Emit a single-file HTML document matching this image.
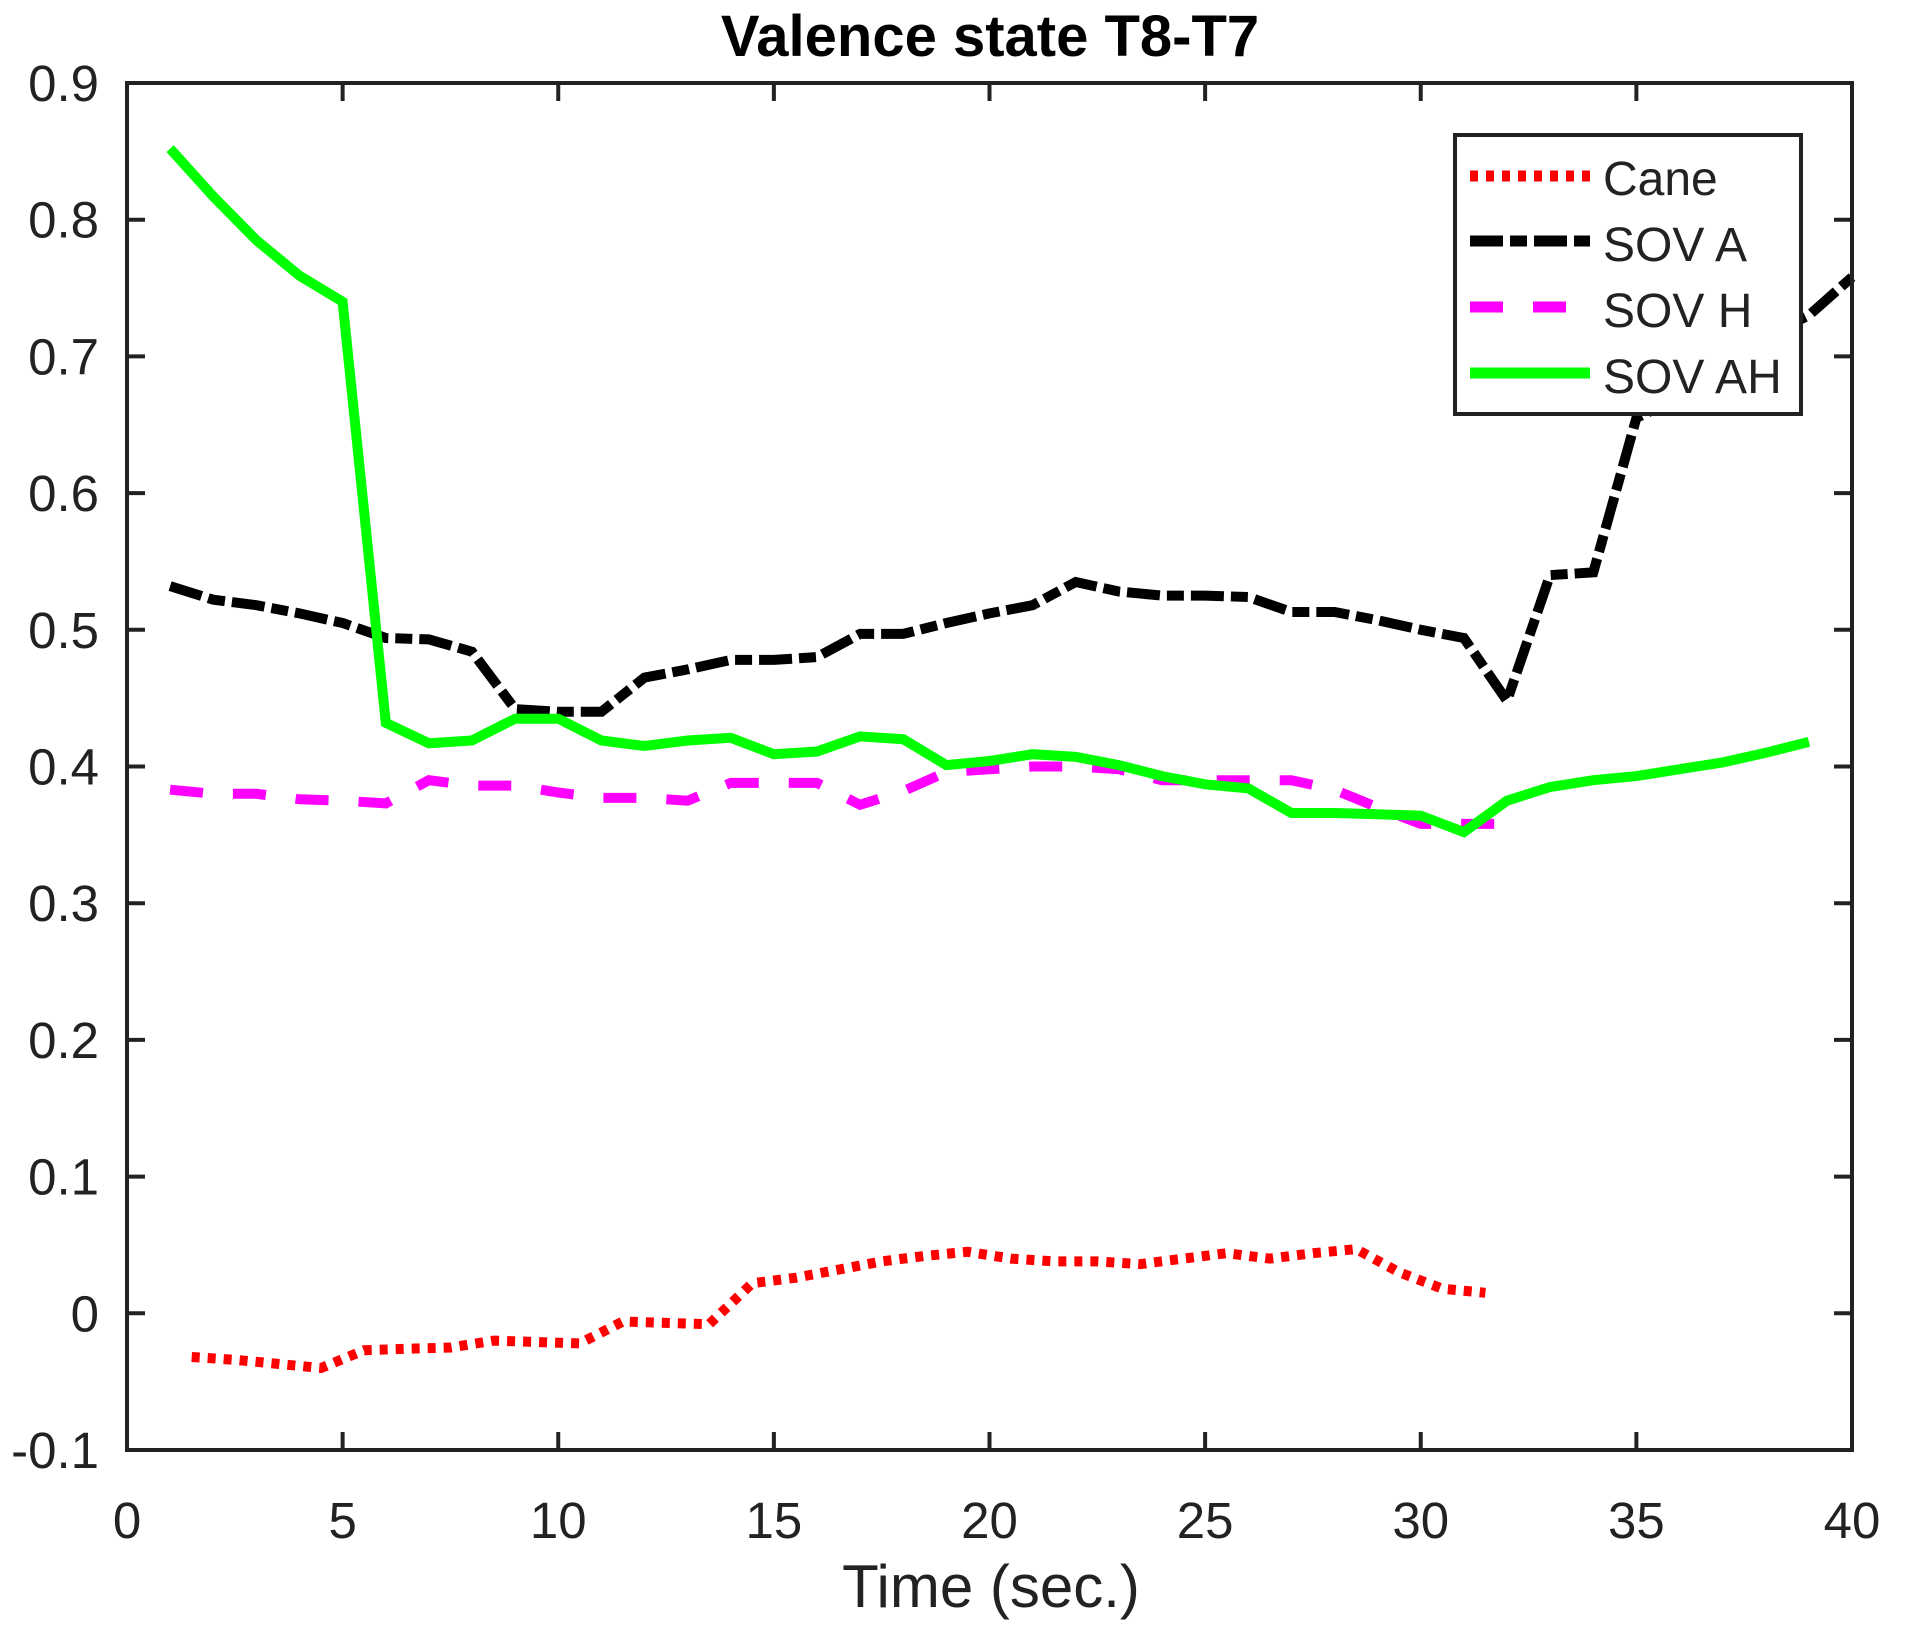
<!DOCTYPE html>
<html><head><meta charset="utf-8"><style>body{margin:0;background:#fff}svg{display:block}text{font-family:"Liberation Sans",sans-serif;fill:#222}</style></head>
<body>
<svg id="chart" width="1905" height="1633" xmlns="http://www.w3.org/2000/svg">
<text x="990" y="56" font-size="58" font-weight="bold" text-anchor="middle" style="fill:#000">Valence state T8-T7</text>
<g id="axes"></g>
<g id="series"></g>
<rect x="127" y="83" width="1725" height="1367" fill="none" stroke="#222" stroke-width="4"/>
<text x="991" y="1607" font-size="60" text-anchor="middle">Time (sec.)</text>
<g>
<rect x="1455" y="135" width="346" height="279" fill="#fff" stroke="#222" stroke-width="4"/>
<line x1="1470" y1="176" x2="1590" y2="176" stroke="#f00" stroke-width="11" stroke-dasharray="8,8"/>
<text x="1603" y="195" font-size="48">Cane</text>
<line x1="1470" y1="241" x2="1590" y2="241" stroke="#000" stroke-width="11" stroke-dasharray="33,7,17,7"/>
<text x="1603" y="261" font-size="48">SOV A</text>
<line x1="1470" y1="307" x2="1590" y2="307" stroke="#f0f" stroke-width="11" stroke-dasharray="33,30"/>
<text x="1603" y="327" font-size="48">SOV H</text>
<line x1="1470" y1="373" x2="1590" y2="373" stroke="#0f0" stroke-width="11"/>
<text x="1603" y="393" font-size="48">SOV AH</text>
</g>
</svg>
<script>
const xTicks=[0,5,10,15,20,25,30,35,40];
const yTicks=[-0.1,0,0.1,0.2,0.3,0.4,0.5,0.6,0.7,0.8,0.9];
const caneX=[1.5,2.5,3.5,4.5,5.5,6.5,7.5,8.5,9.5,10.5,11.5,12.5,13.5,14.5,15.5,16.5,17.5,18.5,19.5,20.5,21.5,22.5,23.5,24.5,25.5,26.5,27.5,28.5,29.5,30.5,31.5];
const caneY=[-0.032,-0.034,-0.037,-0.040,-0.027,-0.026,-0.025,-0.020,-0.021,-0.022,-0.006,-0.007,-0.008,0.022,0.026,0.032,0.038,0.042,0.045,0.040,0.038,0.038,0.036,0.040,0.044,0.040,0.044,0.047,0.030,0.018,0.015];
const sovAY=[0.532,0.522,0.518,0.512,0.505,0.494,0.493,0.484,0.442,0.440,0.440,0.465,0.471,0.478,0.478,0.480,0.497,0.497,0.505,0.512,0.518,0.535,0.528,0.525,0.525,0.524,0.513,0.513,0.507,0.500,0.494,0.448,0.540,0.542,0.655,0.670,0.695,0.715,0.730,0.758];
const sovHY=[0.383,0.380,0.380,0.376,0.375,0.373,0.390,0.386,0.386,0.381,0.377,0.377,0.375,0.388,0.388,0.388,0.372,0.382,0.396,0.398,0.400,0.400,0.398,0.390,0.390,0.390,0.390,0.383,0.370,0.358,0.358,0.358];
const sovAHY=[0.852,0.817,0.785,0.759,0.740,0.432,0.417,0.419,0.435,0.435,0.419,0.415,0.419,0.421,0.409,0.411,0.422,0.420,0.401,0.404,0.409,0.407,0.401,0.393,0.387,0.384,0.366,0.366,0.365,0.364,0.352,0.375,0.385,0.390,0.393,0.398,0.403,0.410,0.418];
const NS='http://www.w3.org/2000/svg';
const L=127,R=1852,T=83,B=1450;
const sx=v=>L+(v-0)/40*(R-L);
const sy=v=>B-(v+0.1)/1.0*(B-T);
const axes=document.getElementById('axes'),ser=document.getElementById('series');
function mk(tag,attrs,parent){const e=document.createElementNS(NS,tag);for(const k in attrs)e.setAttribute(k,attrs[k]);parent.appendChild(e);return e;}
xTicks.forEach(v=>{
  const x=sx(v);
  const t1=mk('line',{x1:x,y1:B,x2:x,y2:B-18,stroke:'#222','stroke-width':4},axes);
  
  
  const t2=mk('line',{x1:x,y1:T,x2:x,y2:T+18,stroke:'#222','stroke-width':4},axes);
  
  
  const tx=mk('text',{x:x,y:1538,'font-size':51,'text-anchor':'middle'},axes);
  tx.textContent=String(v);
  
  
});
yTicks.forEach(v=>{
  const y=sy(v);
  const t1=mk('line',{x1:L,y1:y,x2:L+18,y2:y,stroke:'#222','stroke-width':4},axes);
  
  
  const t2=mk('line',{x1:R,y1:y,x2:R-18,y2:y,stroke:'#222','stroke-width':4},axes);
  
  
  const tx=mk('text',{x:99,y:y+18,'font-size':51,'text-anchor':'end'},axes);
  tx.textContent=(Math.round(v*10)/10).toString();
  
  
});
function line(xs,ys,color,dash,name){
  const pts=ys.map((y,i)=>sx(xs[i]).toFixed(1)+','+sy(y).toFixed(1)).join(' ');
  const p=mk('polyline',{points:pts,fill:'none',stroke:color,'stroke-width':10,'stroke-dasharray':dash,'stroke-linejoin':'miter'},ser);
  
  
}
const idx=n=>Array.from({length:n},(_,i)=>i+1);
line(caneX,caneY,'#f00','8,8','cane-line');
line(idx(sovAY.length),sovAY,'#000','33,7,17,7','sov-a-line');
line(idx(sovHY.length),sovHY,'#f0f','33,30','sov-h-line');
line(idx(sovAHY.length),sovAHY,'#0f0','none','sov-ah-line');
</script>
</body></html>
